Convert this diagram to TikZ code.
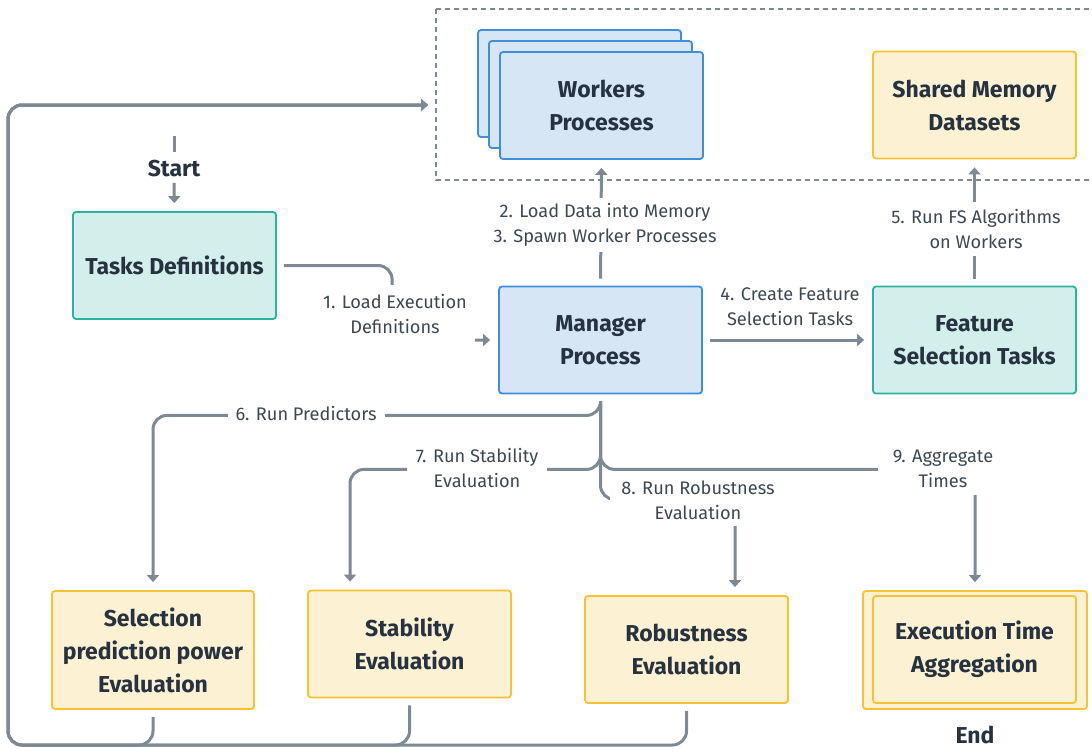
\documentclass[tikz,border=0pt]{standalone}
\usepackage{fontspec}
\setmainfont{Fira Sans}
\usetikzlibrary{arrows.meta}
\definecolor{ink}{HTML}{26323F}
\definecolor{muted}{HTML}{3E4852}
\definecolor{wire}{HTML}{7D8995}
\definecolor{blue}{HTML}{3F8ED8}
\definecolor{bluebg}{HTML}{D6E6F5}
\definecolor{teal}{HTML}{2BB3A0}
\definecolor{tealbg}{HTML}{D3EFEB}
\definecolor{amber}{HTML}{F5C233}
\definecolor{amberbg}{HTML}{FDF1D3}

\begin{document}
\begin{tikzpicture}[
 x=1pt,y=-1pt,
 head/.style={font=\bfseries\fontsize{23}{33}\selectfont,text=ink,align=center},
 body/.style={font=\fontsize{18.2}{25}\selectfont,text=muted,align=center},
 card/.style={head,rounded corners=3pt,line width=1.8pt,minimum width=203,minimum height=107},
 note/.style={body,fill=white,inner sep=0pt},
 pool/.style={draw=wire,line width=1.3pt,dash pattern=on 5pt off 4pt},
 flow/.style={draw=wire,line width=3pt,rounded corners=14pt,-{Triangle[length=7pt,width=12pt]},shorten <=7pt,shorten >=8pt}
]
\useasboundingbox (0,0) rectangle (1092,753);
\fill[white] (0,0) rectangle (1092,753);

% Worker pool and shared data.
\draw[pool] (436,9) rectangle (1100,180);
\node[card,draw=blue,fill=bluebg] (workers3) at (579.5,83.5) {};
\node[card,draw=blue,fill=bluebg] (workers2) at (590.5,94.5) {};
\node[card,draw=blue,fill=bluebg] (workers) at (601.5,105.5) {Workers\\Processes};
\node[card,draw=amber,fill=amberbg] (shared) at (974.5,105) {Shared Memory\\Datasets};

% Entry point.
\coordinate (origin) at (174,136);
\node[head] (start) at (174,169) {Start};
\draw[draw=wire,line width=3pt] (origin) -- ++(0,16);
\node[card,draw=teal,fill=tealbg] (tasks) at (174.5,265.5) {Tasks Definitions};
\draw[flow,shorten <=2pt] (start.south) -- (tasks.north);

% Manager and task creation.
\node[card,draw=blue,fill=bluebg] (manager) at (600.5,340) {Manager\\Process};
\node[card,draw=teal,fill=tealbg] (feature) at (974.5,340) {Feature\\Selection Tasks};
\draw[flow] (tasks.east) -| ([xshift=-106pt]manager.west) -- (manager.west);
\node[note,minimum width=160,minimum height=60] (l1) at (395,314.5) {1. Load Execution\\Definitions};
\draw[flow] (manager.north) -- (workers.south);
\node[note,minimum height=54] (l23) at (605,225) {2. Load Data into Memory\\3. Spawn Worker Processes};
\draw[flow] (manager.east) -- (feature.west);
\node[body] (l4) at (790,306.5) {4. Create Feature\\Selection Tasks};
\draw[flow] (feature.north) -- (shared.south);
\node[note,minimum height=54] (l5) at (976,229) {5. Run FS Algorithms\\on Workers};

% Evaluations.
\node[card,draw=amber,fill=amberbg,minimum width=202,minimum height=118] (selection) at (153,650) {Selection\\prediction power\\Evaluation};
\node[card,draw=amber,fill=amberbg] (stability) at (409.5,644) {Stability\\Evaluation};
\node[card,draw=amber,fill=amberbg] (robust) at (686.5,649.5) {Robustness\\Evaluation};
\node[card,draw=amber,fill=amberbg,minimum width=224,minimum height=118] (execframe) at (975,650) {};
\node[card,draw=amber,fill=amberbg] (exec) at (974.5,649.5) {Execution Time\\Aggregation};
\node[head] (finish) at (975,735) {End};

\draw[flow] (manager.south) -- ++(0,21) -| (selection.north);
\draw[flow] (manager.south) -- ++(0,75) -| ([xshift=-59.5pt]stability.north);
\draw[flow] (manager.south) -- ++(0,105) -| ([xshift=48.5pt]robust.north);
\draw[flow] (manager.south) -- ++(0,75) -| (execframe.north);
\node[note,minimum width=157,minimum height=20] (l6) at (306,414) {6. Run Predictors};
\node[note,minimum width=140,minimum height=52] (l7) at (477,468.5) {7. Run Stability\\Evaluation};
\node[note,minimum width=176,minimum height=52] (l8) at (698,500) {8. Run Robustness\\Evaluation};
\node[note,minimum width=130,minimum height=52] (l9) at (943,468.5) {9. Aggregate\\Times};

% Results go back to the workers.
\coordinate (loopin) at (436,105);
\coordinate (loopbl) at (8,745);
\draw[flow] (selection.south) |- (loopbl) |- (loopin);
\draw[flow] (stability.south) |- (loopbl) |- (loopin);
\draw[flow] (robust.south) |- (loopbl) |- (loopin);
\end{tikzpicture}
\end{document}
